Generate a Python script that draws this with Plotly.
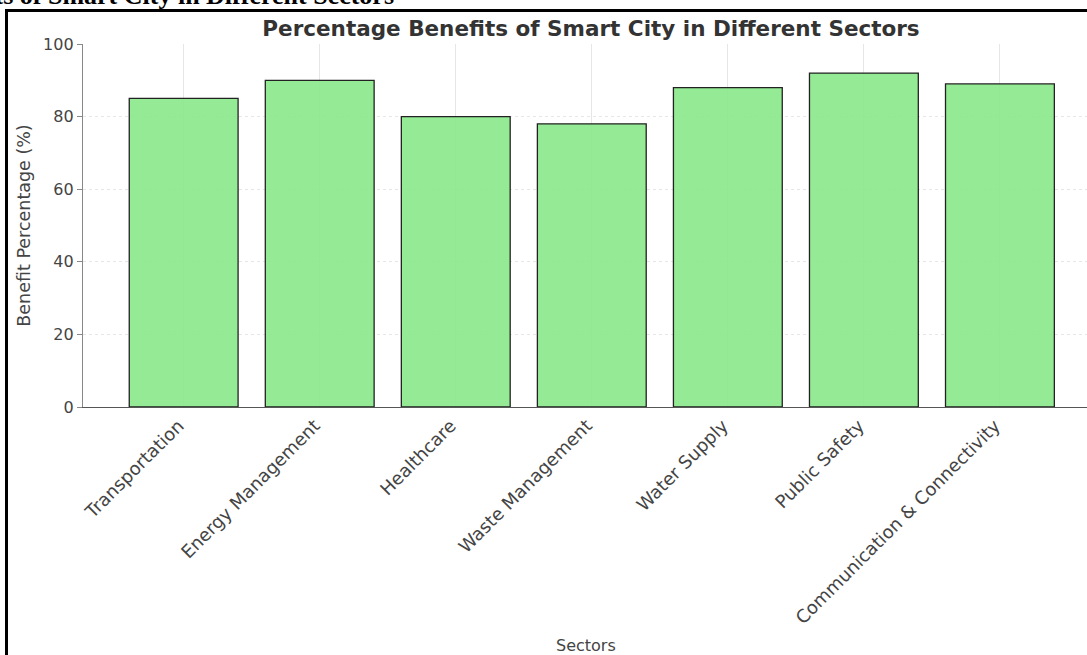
import plotly.graph_objects as go

sectors = ["Transportation", "Energy Management", "Healthcare", "Waste Management",
           "Water Supply", "Public Safety", "Communication & Connectivity"]
benefits = [85, 90, 80, 78, 88, 92, 89]
y_ticks = [0, 20, 40, 60, 80, 100]

W, H = 1087, 655
L, R, T, B = 83, 0, 44, 248
pw, ph = W - L - R, H - T - B

def px(x):
    return (x - L) / pw

def py(y):
    return (H - B - y) / ph

fig = go.Figure()
fig.add_trace(go.Bar(
    x=sectors, y=benefits,
    marker=dict(color="rgba(138,232,138,0.9)", line=dict(color="#222222", width=1.3)),
    width=0.8,
))

fig.update_layout(
    width=W, height=H,
    margin=dict(l=L, r=R, t=T, b=B, autoexpand=False),
    plot_bgcolor="white", paper_bgcolor="white",
    showlegend=False,
    font=dict(family="DejaVu Sans", size=16, color="#444444"),
    title=dict(text="<b>Percentage Benefits of Smart City in Different Sectors</b>",
               x=591 / W, xanchor="center", xref="container",
               y=1 - 28 / H, yanchor="middle", yref="container",
               font=dict(family="DejaVu Sans", size=21.5, color="#333333")),
    xaxis=dict(
        type="category", range=[-0.74, 6.64],
        showgrid=True, gridcolor="#e6e6e6", gridwidth=1,
        showline=True, linecolor="#555555", linewidth=1.3,
        ticks="", ticklabelshift=-5,
        tickangle=-45, tickfont=dict(size=18, color="#444444"),
    ),
    yaxis=dict(
        range=[0, 100], tickvals=y_ticks,
        showgrid=True, gridcolor="#e6e6e6", gridwidth=1, griddash="dot",
        showline=True, linecolor="#888888", linewidth=1.3,
        ticks="outside", ticklen=5, tickcolor="#888888",
        zeroline=False, tickfont=dict(size=16, color="#444444"),
        title=dict(text="Benefit Percentage (%)", font=dict(size=17.5, color="#444444"), standoff=7),
    ),
    shapes=[dict(type="rect", xref="paper", yref="paper",
                 x0=px(6.5), x1=px(1100), y0=py(720), y1=py(10.5),
                 line=dict(color="black", width=3), fillcolor="rgba(0,0,0,0)")],
    annotations=[
        dict(text="<b>Percentage Benefits of Smart City in Different Sectors</b>",
             xref="paper", yref="paper", x=px(396), y=py(12),
             xanchor="right", yanchor="bottom", showarrow=False,
             font=dict(family="Liberation Serif", size=26, color="black")),
        dict(text="Sectors", xref="paper", yref="paper", x=px(586), y=py(645),
             xanchor="center", yanchor="middle", showarrow=False,
             font=dict(size=16, color="#444444")),
    ],
)
fig.write_html("out.html", config={"displayModeBar": False},
               post_script="document.body.style.margin='0px';document.body.style.overflow='hidden';")
